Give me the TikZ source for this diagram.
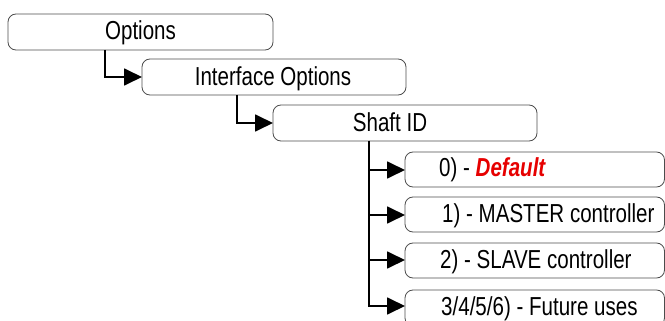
\documentclass[tikz,border=0pt]{standalone}
\usepackage{fontspec}
\setmainfont[FakeStretch=0.79]{Liberation Sans}
\usetikzlibrary{arrows.meta}
\definecolor{defred}{RGB}{230,0,0}
\begin{document}
\begin{tikzpicture}[x=1pt,y=-1pt,
  optbox/.style={draw=black!70,line width=0.8pt,rounded corners=8pt},
  lbl/.style={inner sep=0pt,font=\fontsize{26}{30}\selectfont},
  conn/.style={line width=1.8pt,-{Triangle[length=18pt,width=17pt]}}]
\useasboundingbox (0,0) rectangle (665,321);
% boxes
\draw[optbox] (8,14) rectangle (273,50);
\draw[optbox] (142,59) rectangle (406,95);
\draw[optbox] (273,105) rectangle (537,141);
\draw[optbox] (405,152) rectangle (664.5,187);
\draw[optbox] (405,197) rectangle (664.5,232);
\draw[optbox] (405,243) rectangle (664.5,278);
\draw[optbox] (405,290) rectangle (664.5,326);
% named anchors
\coordinate (b2in) at (142,77);
\coordinate (b3in) at (273,123);
\coordinate (c0) at (405,170);
\coordinate (c1) at (405,215);
\coordinate (c2) at (405,260);
\coordinate (c3) at (405,306);
\coordinate (s1) at (105,50);
\coordinate (s2) at (237,95);
\coordinate (s3) at (369,141);
% labels
\node[lbl,anchor=base] (t1) at (140.5,40) {Options};
\node[lbl,anchor=base] (t2) at (273,86) {Interface Options};
\node[lbl,anchor=base] (t3) at (390,131.5) {Shaft ID};
\node[lbl,anchor=base west] (t4) at (439,176.5) {0) - \textcolor{defred}{\bfseries\itshape Default}};
\node[lbl,anchor=base west] (t5) at (442,222.5) {1) - MASTER controller};
\node[lbl,anchor=base west] (t6) at (440,268) {2) - SLAVE controller};
\node[lbl,anchor=base west] (t7) at (441,315) {3/4/5/6) - Future uses};
% connectors
\draw[conn] (s1) |- (b2in);
\draw[conn] (s2) |- (b3in);
\draw[conn] (s3) |- (c0);
\draw[conn] (s3) |- (c1);
\draw[conn] (s3) |- (c2);
\draw[conn] (s3) |- (c3);
\end{tikzpicture}
\end{document}
